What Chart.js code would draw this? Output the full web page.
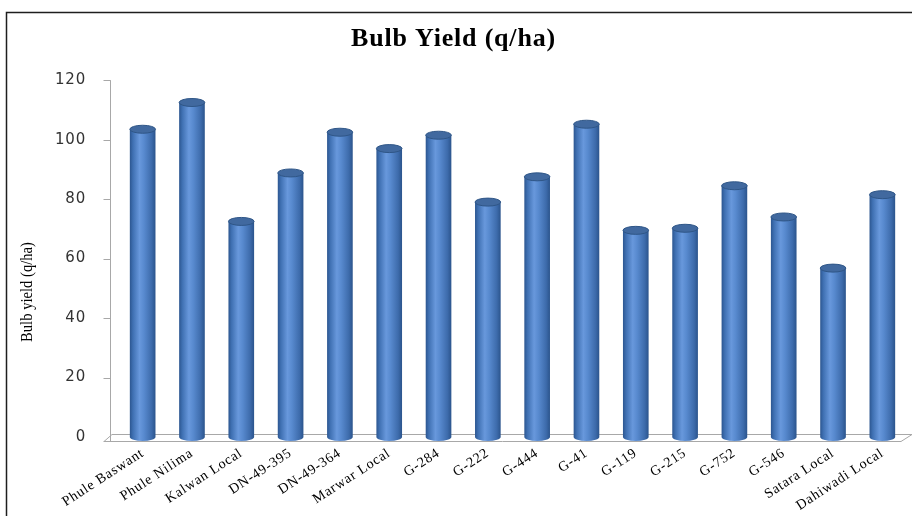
<!DOCTYPE html>
<html>
<head>
<meta charset="utf-8">
<style>
  html, body { margin: 0; padding: 0; background: #fff; }
  #wrap { position: relative; width: 912px; height: 516px; overflow: hidden; }
  canvas { display: block; }
</style>
<script src="https://cdn.jsdelivr.net/npm/chart.js@4.4.0/dist/chart.umd.min.js"></script>
</head>
<body>
<div id="wrap"><canvas id="c" width="912" height="516"></canvas></div>
<script>
const categories = ["Phule Baswant", "Phule Nilima", "Kalwan Local", "DN-49-395", "DN-49-364", "Marwar Local", "G-284", "G-222", "G-444", "G-41", "G-119", "G-215", "G-752", "G-546", "Satara Local", "Dahiwadi Local"];
const bulbYield = [103.5, 112.5, 72.5, 88.8, 102.5, 97, 101.5, 79, 87.5, 105.2, 69.5, 70.2, 84.5, 74, 56.8, 81.5];
const yTicks = [0, 20, 40, 60, 80, 100, 120];
const chartTitle = "Bulb Yield (q/ha)";
const yTitle = "Bulb yield (q/ha)";

const BAR_PCT = 0.52;

function barGradient(ctx) {
  const chart = ctx.chart;
  const xs = chart.scales && chart.scales.x;
  if (!chart.chartArea || !xs || ctx.dataIndex === undefined) return '#4a7ec2';
  const cx = xs.getPixelForValue(ctx.dataIndex);
  const w = xs.width / categories.length * BAR_PCT;
  const g = chart.ctx.createLinearGradient(cx - w / 2, 0, cx + w / 2, 0);
  g.addColorStop(0, '#2c5690');
  g.addColorStop(0.12, '#3f70b2');
  g.addColorStop(0.38, '#6898dc');
  g.addColorStop(0.55, '#588acf');
  g.addColorStop(0.85, '#3d6bab');
  g.addColorStop(1, '#2b548c');
  return g;
}

const decor = {
  id: 'decor',
  beforeDraw(chart) {
    try { chart.ctx.letterSpacing = '0.8px'; } catch (e) {}
  },
  beforeDatasetsDraw(chart) {
    const { ctx, chartArea: a } = chart;
    const ys = chart.scales.y;
    ctx.save();
    // 3D floor
    ctx.strokeStyle = '#a8a8a8';
    ctx.lineWidth = 1;
    ctx.beginPath();
    ctx.moveTo(a.left - 14, a.bottom + 4.5);
    ctx.lineTo(a.right - 6, a.bottom + 4.5);
    ctx.lineTo(a.right + 5, a.bottom - 2.5);
    ctx.moveTo(a.left - 14, a.bottom + 4.5);
    ctx.lineTo(a.left - 6, a.bottom - 2.5);
    ctx.lineTo(a.right + 5, a.bottom - 2.5);
    ctx.stroke();
    // y axis line and ticks
    const ax = a.left - 7.5;
    ctx.beginPath();
    ctx.moveTo(ax, a.top);
    ctx.lineTo(ax, a.bottom + 4.5);
    yTicks.forEach(v => {
      const py = Math.round(ys.getPixelForValue(v)) + 0.5 + (v === 0 ? 4 : 0);
      ctx.moveTo(ax - 7, py);
      ctx.lineTo(ax, py);
    });
    ctx.stroke();
    ctx.restore();
  },
  afterDatasetsDraw(chart) {
    const { ctx } = chart;
    const meta = chart.getDatasetMeta(0);
    ctx.save();
    meta.data.forEach((el, i) => {
      const w = el.width, r = w / 2, ry = 4;
      ctx.fillStyle = barGradient({ chart, dataIndex: i });
      ctx.beginPath();
      ctx.ellipse(el.x, el.base, r, ry, 0, 0, Math.PI);
      ctx.fill();
      ctx.beginPath();
      ctx.ellipse(el.x, el.y, r, ry, 0, 0, Math.PI * 2);
      ctx.fillStyle = '#41699f';
      ctx.fill();
      ctx.strokeStyle = '#2f5687';
      ctx.lineWidth = 1;
      ctx.stroke();
    });
    ctx.restore();
  },
  afterDraw(chart) {
    const { ctx } = chart;
    ctx.save();
    ctx.strokeStyle = '#1e1e1e';
    ctx.lineWidth = 1.5;
    ctx.strokeRect(6.5, 12.5, 1000, 700);
    ctx.translate(28, 292);
    ctx.rotate(-Math.PI / 2);
    ctx.scale(0.86, 1);
    ctx.fillStyle = '#000';
    try { ctx.letterSpacing = '0px'; } catch (e) {}
    ctx.font = '17px "Liberation Serif"';
    ctx.textAlign = 'center';
    ctx.textBaseline = 'middle';
    ctx.fillText(yTitle, 0, 0);
    ctx.restore();
  }
};

new Chart(document.getElementById('c'), {
  type: 'bar',
  data: {
    labels: categories,
    datasets: [{
      data: bulbYield,
      backgroundColor: barGradient,
      borderWidth: 0,
      barPercentage: BAR_PCT,
      categoryPercentage: 1
    }]
  },
  options: {
    responsive: false,
    animation: false,
    devicePixelRatio: 1,
    layout: { padding: { left: 0, right: 5, top: 0, bottom: 0 } },
    plugins: {
      legend: { display: false },
      tooltip: { enabled: false },
      title: {
        display: true,
        text: chartTitle,
        color: '#000',
        font: { family: '"Liberation Serif"', size: 26, weight: 'bold' },
        padding: { top: 24, bottom: 25 }
      }
    },
    scales: {
      x: {
        grid: { display: false },
        border: { display: false },
        ticks: {
          color: '#000',
          font: { family: '"Liberation Serif"', size: 14 },
          minRotation: 33,
          maxRotation: 33,
          autoSkip: false,
          padding: 0
        },
        afterFit(s) { s.height = 79; }
      },
      y: {
        min: 0,
        max: 120,
        afterBuildTicks(s) { s.ticks = yTicks.map(v => ({ value: v })); },
        grid: { display: false },
        border: { display: false },
        ticks: {
          color: '#333',
          font: { family: '"DejaVu Sans"', size: 15 },
          padding: 24
        },
        afterFit(s) { s.width = 118; }
      }
    }
  },
  plugins: [decor]
});
</script>
</body>
</html>
